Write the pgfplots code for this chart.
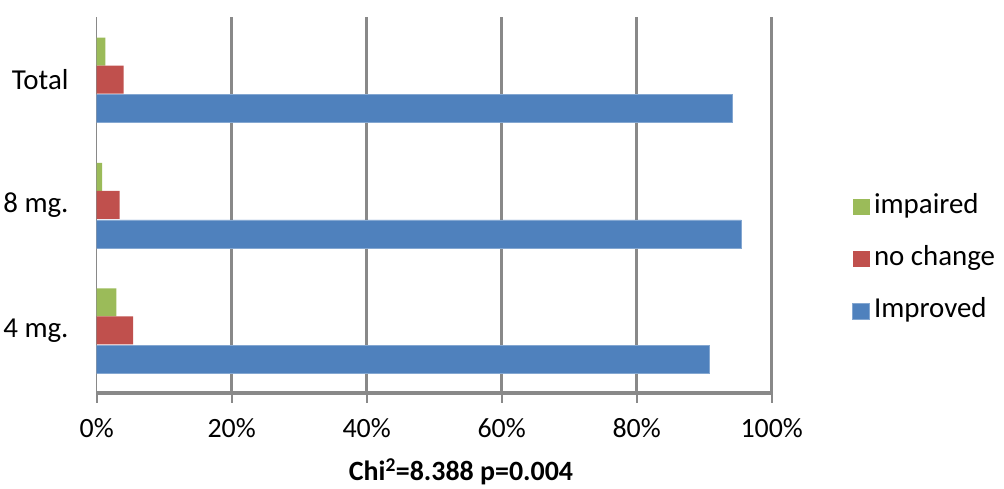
\documentclass[border=0pt]{standalone}
\usepackage{pgfplots}
\pgfplotsset{compat=1.18}
\usepackage{fontspec}
\setmainfont{Carlito}
\definecolor{cBlue}{HTML}{4F81BD}
\definecolor{cRed}{HTML}{C0504D}
\definecolor{cGreen}{HTML}{9BBB59}
\definecolor{cGrid}{HTML}{898989}
\begin{document}
\begin{tikzpicture}[x=1bp,y=1bp]
\useasboundingbox (0,0) rectangle (1004,489);
\begin{axis}[
  at={(96.7bp,96bp)}, anchor=south west,
  scale only axis, width=675bp, height=376bp,
  xbar, bar width=28bp,
  xmin=0, xmax=100, ymin=-0.5, ymax=2.5,
  xtick={20,40,60,80,100},
  xticklabels={20\%,40\%,60\%,80\%,100\%},
  extra x ticks={0}, extra x tick labels={0\%},
  extra x tick style={grid=none},
  ytick={0,1,2}, yticklabels={4 mg.,8 mg.,Total},
  axis x line=bottom, axis y line=left,
  x axis line style={-, draw=cGrid, line width=3.5bp},
  y axis line style={-, draw=cGrid, line width=1.5bp},
  xmajorgrids, major grid style={draw=cGrid, line width=2.5bp},
  tick align=outside, major tick length=10bp,
  xtick style={draw=cGrid, line width=2bp},
  ytick style={draw=none},
  x tick label style={font=\fontsize{28}{32}\selectfont, inner sep=0pt, yshift=-15bp},
  y tick label style={font=\fontsize{29}{33}\selectfont, inner sep=0pt, xshift=-18bp},
  legend cell align=left,
  legend style={draw=none, fill=none, inner sep=0pt,
    at={(rel axis cs:1.119,0.53)}, anchor=north west,
    font=\fontsize{29}{33}\selectfont,
    row sep=26bp, column sep=4bp,
    nodes={inner sep=0pt, text height=20bp, text depth=6bp}},
  legend image code/.code={\fill[#1] (0bp,-8bp) rectangle (17bp,8bp);},
]
\addplot[fill=cGreen, draw=none, bar shift=28bp] coordinates {(2.9,0) (0.8,1) (1.3,2)};
\addplot[fill=cRed, draw=none, bar shift=0bp] coordinates {(5.4,0) (3.4,1) (4.0,2)};
\addplot[fill=cBlue, draw=cBlue!70!white, line width=0.8bp, bar shift=-29bp] coordinates {(90.7,0) (95.5,1) (94.2,2)};
\legend{impaired, no change, Improved}
\end{axis}
\node[font=\fontsize{28}{32}\selectfont\bfseries, anchor=center] at (461,17) {Chi\textsuperscript{2}=8.388 p=0.004};
\end{tikzpicture}
\end{document}
